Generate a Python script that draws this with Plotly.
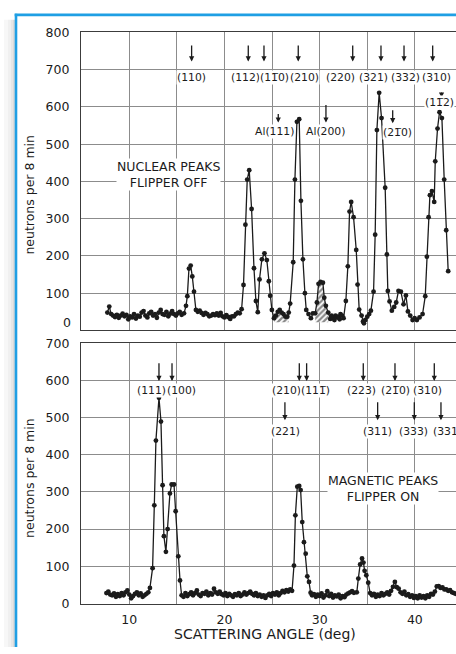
import plotly.graph_objects as go

FIG_W, FIG_H = 456, 654

# ---------------- nuclear scan, flipper off (counts per 8 min) ----------------
NUC_ANGLE = [
    7.7, 7.9, 8.1, 8.3, 8.5, 8.7, 8.9, 9.1, 9.3, 9.5, 9.7, 9.9, 10.1, 10.3, 10.5,
    10.7, 10.9, 11.1, 11.3, 11.5, 11.7, 11.9, 12.1, 12.3, 12.5, 12.7, 12.9, 13.1,
    13.3, 13.5, 13.7, 13.9, 14.1, 14.3, 14.5, 14.7, 14.9, 15.1, 15.3, 15.5, 15.75,
    15.96, 16.1, 16.27, 16.45, 16.62, 16.8, 17.0,
    17.2, 17.4, 17.6, 17.8, 18.0, 18.2, 18.4, 18.6, 18.8, 19.0, 19.2, 19.4, 19.6,
    19.8, 20.0, 20.2, 20.4, 20.6, 20.8, 21.0, 21.2, 21.4, 21.6, 21.8,
    22.0, 22.2, 22.39, 22.6, 22.85, 23.1, 23.3, 23.5,
    23.68, 23.93, 24.2, 24.45, 24.66, 24.8, 24.98, 25.2, 25.4, 25.6, 25.8, 26.0,
    26.2, 26.4, 26.6, 26.75, 26.9,
    27.22, 27.4, 27.61, 27.85, 28.03, 28.24, 28.45, 28.59, 28.83, 29.08, 29.29,
    29.53, 29.71, 29.88, 30.09, 30.34, 30.48, 30.65, 30.9, 31.11, 31.25, 31.39,
    31.55, 31.67, 31.8, 31.95, 32.1, 32.19, 32.35, 32.51,
    32.75, 32.96, 33.14, 33.31, 33.56, 33.84, 33.98, 34.15, 34.4, 34.55, 34.65,
    34.8, 35.0, 35.2, 35.38,
    35.66, 35.83, 36.01, 36.25, 36.5, 36.88, 37.06, 37.16, 37.34, 37.58, 37.83,
    38.04, 38.28, 38.53, 38.81, 39.06, 39.27, 39.51, 39.76, 39.97, 40.21, 40.49,
    40.81, 41.09, 41.26, 41.44, 41.58, 41.79, 42.03, 42.14, 42.38, 42.59, 42.84,
    43.08, 43.29, 43.5,
]
NUC_COUNT = [
    48, 64, 44, 40, 36, 42, 34, 40, 45, 38, 42, 30, 38, 35, 44,
    32, 40, 37, 48, 52, 40, 35, 46, 50, 40, 44, 34, 48,
    55, 44, 42, 50, 38, 45, 52, 44, 40, 46, 50, 42, 46,
    66, 92, 166, 174, 145, 104, 55,
    50, 53, 47, 42, 47, 44, 38, 40, 44, 41, 46, 40, 47,
    38, 35, 41, 36, 31, 38, 38, 44, 48, 46, 57,
    122, 284, 405, 430, 326, 167, 79, 49,
    137, 191, 207, 189, 132, 93, 55, 33, 40, 50, 55, 48,
    44, 37, 37, 48, 72,
    183, 405, 560, 567, 348, 191, 100, 55, 44, 33, 46,
    46, 75, 125, 130, 128, 88, 66, 48, 31, 40, 33,
    28, 40, 35, 37, 30, 44, 40, 33,
    79, 172, 319, 345, 304, 216, 123, 56, 40, 24, 19,
    28, 37, 44, 53,
    104, 257, 538, 638, 570, 383, 204, 106, 78, 53, 63,
    75, 106, 104, 70, 94, 51, 40, 28, 33, 28, 35,
    44, 92, 198, 304, 363, 374, 345, 454, 542, 586, 570,
    405, 269, 159,
]

# ---------------- magnetic scan, flipper on (counts per 8 min) ----------------
MAG_ANGLE = [
    7.6, 7.8, 8.0, 8.2, 8.4, 8.6, 8.8, 9.0, 9.2, 9.4, 9.6, 9.8, 10.0, 10.2, 10.4,
    10.6, 10.8, 11.0, 11.2, 11.4, 11.6, 11.8, 12.0,
    12.17, 12.45, 12.63, 12.8, 13.12, 13.33, 13.5, 13.64, 13.85, 14.03, 14.27,
    14.45, 14.7, 14.87, 15.15, 15.33, 15.5,
    15.7, 15.9, 16.1, 16.3, 16.5, 16.7, 16.9, 17.1, 17.3, 17.5, 17.7, 17.9, 18.1,
    18.3, 18.5, 18.7, 18.9, 19.1, 19.3, 19.5, 19.7, 19.9, 20.1, 20.3, 20.5, 20.7,
    20.9, 21.1, 21.3, 21.5, 21.7, 21.9, 22.1, 22.3, 22.5, 22.7, 22.9, 23.1, 23.3,
    23.5, 23.7, 23.9, 24.1, 24.3, 24.5, 24.7, 24.9, 25.1, 25.3, 25.5, 25.7, 25.9,
    26.1, 26.3, 26.5, 26.7, 26.9, 27.1,
    27.3, 27.45, 27.65, 27.85, 28.0, 28.17, 28.35, 28.53, 28.7, 28.88, 29.05,
    29.2, 29.4, 29.6, 29.8, 30.0, 30.2, 30.4, 30.6, 30.8, 31.0, 31.2, 31.4, 31.6,
    31.8, 32.0, 32.2, 32.4, 32.6, 32.8, 33.0, 33.2, 33.4, 33.6, 33.9,
    34.06, 34.25, 34.45, 34.6, 34.72, 34.9, 35.1, 35.3,
    35.5, 35.7, 35.9, 36.1, 36.3, 36.5, 36.7, 36.9, 37.1, 37.3, 37.5, 37.7, 37.9,
    38.1, 38.3, 38.5, 38.7, 38.9, 39.1, 39.3, 39.5, 39.7, 39.9, 40.1, 40.3, 40.5,
    40.7, 40.9, 41.1, 41.3, 41.5, 41.7, 41.9, 42.1, 42.3, 42.5, 42.7, 42.9, 43.1,
    43.3, 43.5, 43.7, 43.9, 44.1, 44.3,
]
MAG_COUNT = [
    28, 32, 24, 22, 27, 18, 25, 20, 28, 22, 30, 35, 24, 14, 20,
    26, 30, 22, 27, 18, 22, 26, 30,
    42, 95, 264, 438, 553, 489, 318, 181, 139, 200, 296,
    320, 320, 248, 127, 62, 22,
    18, 28, 20, 25, 30, 22, 28, 35, 24, 20, 28, 26, 32,
    22, 28, 24, 40, 30, 26, 32, 25, 22, 28, 20, 26, 22,
    18, 25, 22, 28, 20, 24, 30, 24, 28, 32, 26, 22, 28,
    20, 24, 18, 22, 15, 22, 26, 20, 28, 24, 30, 22, 28,
    34, 30, 36, 32, 38, 34,
    102, 237, 314, 316, 305, 219, 165, 134, 73, 58, 29,
    22, 25, 18, 24, 20, 27, 16, 22, 33, 20, 26, 16, 22,
    19, 24, 14, 20, 17, 24, 27, 30, 33, 29, 30,
    67, 105, 121, 110, 88, 76, 56, 28,
    22, 26, 18, 24, 20, 28, 22, 26, 30, 24, 34, 45, 58,
    44, 40, 30, 26, 32, 22, 25, 18, 22, 15, 20, 14, 22,
    16, 20, 14, 22, 18, 26, 24, 32, 46, 47, 42, 43, 38,
    38, 34, 36, 30, 28, 26,
]

# angular windows attributed to the aluminium holder, hatched under the curve
AL_WINDOWS = [(25.2, 26.75), (29.53, 30.9)]
AL_FLOOR = 22

# axes
X_TICKS = [10, 15, 20, 25, 30, 35, 40]
X_TICK_TEXT = ["10", "", "20", "", "30", "", "40"]
NUC_Y_TICKS = [100, 200, 300, 400, 500, 600, 700, 800]
MAG_Y_TICKS = [0, 100, 200, 300, 400, 500, 600, 700]

# reflection indices (combining overline marks the negative index)
NUC_PEAKS = ["(110)", "(112)", "(11\u03050)", "(210)", "(220)", "(321)", "(332)", "(310)"]
NUC_PEAK_ANGLES = [16.55, 22.5, 24.15, 27.75, 33.47, 36.44, 38.86, 41.87]
NUC_LABEL_ANGLES = [16.55, 22.2, 25.3, 28.4, 32.2, 35.7, 39.0, 42.3]

NUC_EXTRA = ["Al(111)", "Al(200)", "(21\u03050)", "(11\u03052)"]
NUC_EXTRA_ANGLES = [25.65, 30.66, 37.67, 42.8]
NUC_EXTRA_LABEL_ANGLES = [25.27, 30.64, 38.2, 42.6]

MAG_PEAKS_TOP = ["(111)", "(100)", "(210)", "(111\u0305)", "(223)", "(21\u03050)", "(310)"]
MAG_TOP_ANGLES = [13.12, 14.49, 27.86, 28.63, 34.58, 37.91, 42.04]
MAG_TOP_LABEL_ANGLES = [12.3, 15.45, 26.48, 29.56, 34.4, 38.0, 41.36]

MAG_PEAKS_LOW = ["(221)", "(311)", "(333)", "(331)"]
MAG_LOW_ANGLES = [26.35, 36.09, 39.94, 42.74]
MAG_LOW_LABEL_ANGLES = [26.4, 36.07, 39.83, 43.45]

# ---------------- styling ----------------
FONT = "DejaVu Sans"
INK = "#1b1b1b"
GRID = "#8c8c8c"
AXIS = "#3c3c3c"
FRAME = "#1f9fe4"


def px_x(p):
    return p / FIG_W


def px_y(p):
    return 1 - p / FIG_H


fig = go.Figure()

# hatched aluminium contributions: an invisible floor, then the curve filled down to it
for lo, hi in AL_WINDOWS:
    xs = [a for a in NUC_ANGLE if lo <= a <= hi]
    ys = [c for a, c in zip(NUC_ANGLE, NUC_COUNT) if lo <= a <= hi]
    fig.add_trace(go.Scatter(
        x=xs, y=[AL_FLOOR] * len(xs), xaxis="x", yaxis="y", mode="lines",
        line=dict(width=0.1, color="rgba(0,0,0,0)"), hoverinfo="skip", showlegend=False,
    ))
    fig.add_trace(go.Scatter(
        x=xs, y=ys, xaxis="x", yaxis="y", mode="lines",
        line=dict(width=0.1, color="rgba(0,0,0,0)"),
        fill="tonexty", fillcolor="white",
        fillpattern=dict(shape="/", fgcolor="#111111", bgcolor="white",
                         size=4, solidity=0.55),
        hoverinfo="skip", showlegend=False,
    ))

point_style = dict(mode="lines+markers",
                   line=dict(color=INK, width=1.3),
                   marker=dict(color=INK, size=4.8),
                   showlegend=False)

fig.add_trace(go.Scatter(x=NUC_ANGLE, y=NUC_COUNT, xaxis="x", yaxis="y", **point_style))
fig.add_trace(go.Scatter(x=MAG_ANGLE, y=MAG_COUNT, xaxis="x2", yaxis="y2", **point_style))

x_common = dict(
    domain=[px_x(81), 1], range=[4.93, 44.32],
    tickvals=X_TICKS, ticktext=X_TICK_TEXT, ticks="",
    showgrid=True, gridcolor=GRID, gridwidth=1,
    showline=True, mirror=True, linecolor=AXIS, linewidth=1.2,
    zeroline=False, tickfont=dict(family=FONT, size=12.5, color=INK),
)
y_common = dict(
    ticks="", showgrid=True, gridcolor=GRID, gridwidth=1,
    showline=True, mirror=False, linecolor=AXIS, linewidth=1.2,
    zeroline=False, ticklabelstandoff=8,
    tickfont=dict(family=FONT, size=12.5, color=INK),
)

annotations = []


def label(text, x, y, xref, yref, size=10.8):
    annotations.append(dict(
        text=text, x=x, y=y, xref=xref, yref=yref, showarrow=False,
        font=dict(family=FONT, size=size, color=INK),
        bgcolor="white", borderpad=0, xanchor="center", yanchor="middle",
    ))


def arrow(x, tip, tail, xref, yref):
    annotations.append(dict(
        text="", x=x, y=tip, ax=x, ay=tail, xref=xref, yref=yref,
        axref=xref, ayref=yref, showarrow=True, arrowhead=2, arrowsize=0.8,
        arrowwidth=1.3, arrowcolor=INK, standoff=0, startstandoff=0,
    ))


# nuclear panel indices
for name, a, la in zip(NUC_PEAKS, NUC_PEAK_ANGLES, NUC_LABEL_ANGLES):
    arrow(a, 722, 769, "x", "y")
    label(name, la, 680, "x", "y")

extra_tails = [585, 609, 595, 643]
extra_tips = [558, 558, 556, 625]
extra_label_y = [535, 535, 531, 612]
for name, a, la, tl, tp, ly in zip(NUC_EXTRA, NUC_EXTRA_ANGLES, NUC_EXTRA_LABEL_ANGLES,
                                     extra_tails, extra_tips, extra_label_y):
    arrow(a, tp, tl, "x", "y")
    label(name, la, ly, "x", "y")

# magnetic panel indices
for name, a, la in zip(MAG_PEAKS_TOP, MAG_TOP_ANGLES, MAG_TOP_LABEL_ANGLES):
    arrow(a, 598, 650, "x2", "y2")
    label(name, la, 574, "x2", "y2")
for name, a, la in zip(MAG_PEAKS_LOW, MAG_LOW_ANGLES, MAG_LOW_LABEL_ANGLES):
    arrow(a, 493, 545, "x2", "y2")
    label(name, la, 462, "x2", "y2")

# panel captions
label("NUCLEAR PEAKS<br>FLIPPER OFF", 14.17, 418, "x", "y", size=12.5)
label("MAGNETIC PEAKS<br>FLIPPER ON", 36.65, 308, "x2", "y2", size=12.5)

# axis titles
for yc in (191, 481):
    annotations.append(dict(
        text="neutrons per 8 min", x=px_x(30), y=px_y(yc), xref="paper", yref="paper",
        textangle=-90, showarrow=False, xanchor="center", yanchor="middle",
        font=dict(family=FONT, size=12.5, color=INK),
    ))
annotations.append(dict(
    text="SCATTERING ANGLE (deg)", x=px_x(265), y=px_y(641), xref="paper", yref="paper",
    showarrow=False, xanchor="center", yanchor="middle",
    font=dict(family=FONT, size=14, color=INK),
))
# zero of the upper scale, lettered just above its baseline
annotations.append(dict(
    text="0", x=px_x(73), y=px_y(322), xref="paper", yref="paper",
    showarrow=False, xanchor="right", yanchor="middle",
    font=dict(family=FONT, size=12.5, color=INK),
))

# mount frame with a soft shadow on its left side
shapes = []
for x0, x1, col in [(4, 8, "#f7f7f7"), (8, 11, "#f0f0f0"), (11, 13, "#e6e6e6"), (13, 15, "#dadada")]:
    shapes.append(dict(type="rect", xref="paper", yref="paper",
                       x0=px_x(x0), x1=px_x(x1), y0=0, y1=px_y(12),
                       line=dict(width=0), fillcolor=col, layer="below"))
shapes.append(dict(type="line", xref="paper", yref="paper",
                   x0=px_x(16), x1=px_x(16), y0=0, y1=px_y(5.8),
                   line=dict(color=FRAME, width=2.6)))
shapes.append(dict(type="line", xref="paper", yref="paper",
                   x0=px_x(14.7), x1=1, y0=px_y(7), y1=px_y(7),
                   line=dict(color=FRAME, width=2.6)))

fig.update_layout(
    width=FIG_W, height=FIG_H,
    margin=dict(l=0, r=0, t=0, b=0),
    paper_bgcolor="white", plot_bgcolor="white",
    xaxis=dict(anchor="y", showticklabels=False, **x_common),
    xaxis2=dict(anchor="y2", matches="x", showticklabels=True, ticklabelstandoff=4, **x_common),
    yaxis=dict(domain=[px_y(330), px_y(25)], range=[0, 800], tickvals=NUC_Y_TICKS,
               anchor="x", **y_common),
    yaxis2=dict(domain=[px_y(609.5), px_y(343)], range=[0, 700], tickvals=MAG_Y_TICKS,
                anchor="x2", **y_common),
    annotations=annotations,
    shapes=shapes,
    showlegend=False,
)

fig.write_html("out.html")
